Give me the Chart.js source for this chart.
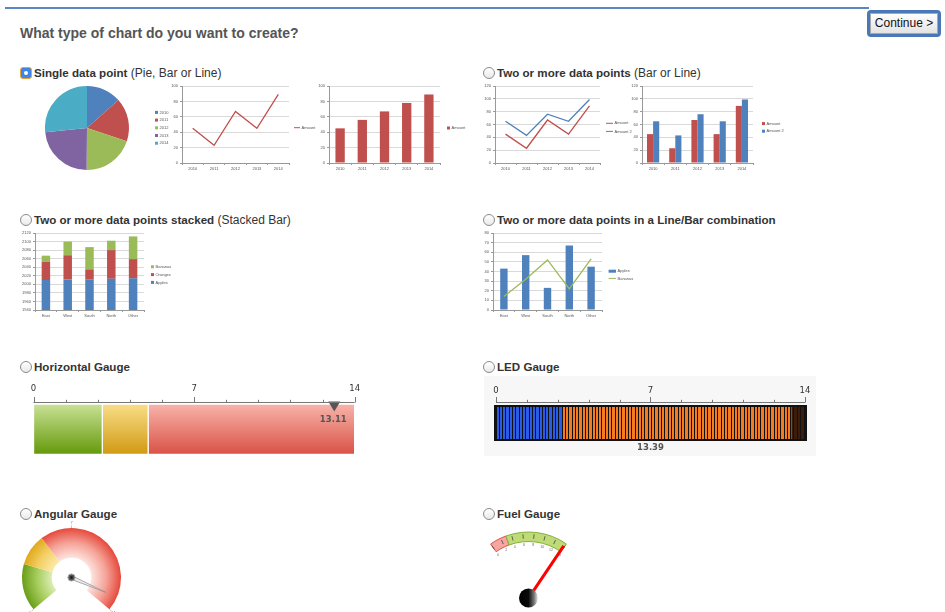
<!DOCTYPE html>
<html>
<head>
<meta charset="utf-8">
<title>What type of chart do you want to create?</title>
<script src="https://cdn.jsdelivr.net/npm/chart.js@4.4.1/dist/chart.umd.min.js"></script>
<style>
  html, body { margin: 0; padding: 0; }
  body { width: 945px; height: 612px; overflow: hidden; position: relative; background: #fff;
         font-family: 'Liberation Sans', Arial, sans-serif; color: #333; }
  .topline { position: absolute; left: 5px; top: 7px; width: 864px; height: 2px; background: #5b86c2; }
  .btn { position: absolute; left: 867px; top: 10px; width: 68px; height: 21px; border: 3px solid #4a77b6;
         border-radius: 4px; background: linear-gradient(#ffffff, #e2e2e2); box-shadow: inset 0 0 0 1px #a8a8a8;
         font-size: 12px; line-height: 21px; text-align: center; color: #111; }
  .title { position: absolute; left: 20px; top: 24px; font-size: 14px; font-weight: bold; color: #555; line-height: 18px; }
  .opt { position: absolute; font-size: 12px; line-height: 14px; color: #333; white-space: nowrap; padding-left: 14px; }
  .opt b { font-size: 11.6px; }
  .radio { position: absolute; left: 0; top: 1px; width: 10px; height: 10px; border: 1px solid #8c8c8c;
           border-radius: 50%; background: linear-gradient(#fff, #e9e9e9); }
  .radio.on { border-radius: 3px; border-color: #e8a33a; background: #3f85e6; }
  .radio.on::after { content: ''; position: absolute; left: 3px; top: 3px; width: 4px; height: 4px;
                     border-radius: 50%; background: #fff; }
  .ledbg { position: absolute; left: 484px; top: 376px; width: 332px; height: 80px; background: #f7f7f7; }
  canvas { position: absolute; }
</style>
</head>
<body>
<div class="topline"></div>
<div class="btn">Continue &gt;</div>
<div class="title">What type of chart do you want to create?</div>

<div class="opt" style="left:20px;top:66px"><span class="radio on"></span><b>Single data point</b> (Pie, Bar or Line)</div>
<div class="opt" style="left:483px;top:66px"><span class="radio"></span><b>Two or more data points</b> (Bar or Line)</div>
<div class="opt" style="left:20px;top:213px"><span class="radio"></span><b>Two or more data points stacked</b> (Stacked Bar)</div>
<div class="opt" style="left:483px;top:213px"><span class="radio"></span><b>Two or more data points in a Line/Bar combination</b></div>
<div class="opt" style="left:20px;top:360px"><span class="radio"></span><b>Horizontal Gauge</b></div>
<div class="opt" style="left:483px;top:360px"><span class="radio"></span><b>LED Gauge</b></div>
<div class="opt" style="left:20px;top:507px"><span class="radio"></span><b>Angular Gauge</b></div>
<div class="opt" style="left:483px;top:507px"><span class="radio"></span><b>Fuel Gauge</b></div>
<div class="ledbg"></div>

<script>
// --- datos ---
const years = ['2010', '2011', '2012', '2013', '2014'];
const pieValues = [45, 56, 67, 78, 89];
const barValues = [45, 56, 67, 78, 89];
const amount = [45, 23, 67, 45, 89];
const amount2 = [65, 43, 76, 65, 99];
const regions = ['East', 'West', 'South', 'North', 'Other'];
const apples = [2010, 2011, 2012, 2013, 2014];
const oranges = [43, 57, 23, 67, 45];
const bananas = [14, 32, 52, 22, 53];
const comboApples = [43, 57, 23, 67, 45];
const comboBananas = [14, 32, 52, 22, 53];
const gaugeLabels = [0, 7, 14];
const gaugeStops = [0, 3, 5, 14];
const hGaugeValue = 13.11;
const ledValue = 13.39;
const ledStops = [0, 3, ledValue, 14];
const angularValue = 13.11;
const fuelStops = [0, 3, 14];
const fuelTicks = [0, 2, 4, 6, 8, 10, 12, 14];
const fuelValue = 13.8;

const BLUE = '#4f81bd', RED = '#c0504d', GREEN = '#9bbb59', PURPLE = '#8064a2', TEAL = '#4bacc6';

Chart.defaults.font.family = "'Liberation Sans', Arial, sans-serif";
Chart.defaults.animation = false;
Chart.defaults.responsive = false;
Chart.defaults.events = [];
Chart.defaults.plugins.legend.display = false;
Chart.defaults.plugins.tooltip.enabled = false;

function canvasAt(x, y, w, h) {
    const c = document.createElement('canvas');
    c.width = w; c.height = h;
    c.style.left = x + 'px'; c.style.top = y + 'px';
    document.body.appendChild(c);
    return c;
}

// leyenda diminuta tipo Excel
const miniLegend = {
    id: 'miniLegend',
    afterDraw(chart, args, o) {
        const ctx = chart.ctx, ds = chart.data.datasets;
        let items;
        if (chart.config.type === 'pie') {
            items = chart.data.labels.map((label, i) => ({ label, color: ds[0].backgroundColor[i], line: false }));
        } else {
            items = ds.map(d => {
                const line = d.type === 'line' || (!d.type && chart.config.type === 'line');
                return { label: d.label, color: line ? d.borderColor : d.backgroundColor, line };
            });
            if (o.reverse) items.reverse();
        }
        ctx.save();
        ctx.font = "4px 'Liberation Sans', Arial, sans-serif";
        ctx.textBaseline = 'middle';
        items.forEach((it, i) => {
            const y = o.y + i * (o.gap || 0);
            if (it.line) {
                ctx.strokeStyle = it.color; ctx.lineWidth = 1;
                ctx.beginPath(); ctx.moveTo(o.x, y); ctx.lineTo(o.x + o.lw, y); ctx.stroke();
            } else {
                ctx.fillStyle = it.color;
                ctx.fillRect(o.x, y - 1.5, o.bw, 3);
            }
            ctx.fillStyle = '#555';
            ctx.fillText(it.label, o.x + (it.line ? o.lw : o.bw) + 1.5, y);
        });
        ctx.restore();
    }
};

function smallChart(type, plot, right, labels, datasets, y, legend, stacked) {
    const [l, t, r, b] = plot;
    const x0 = l - 16, y0 = t - 5, w = right - x0, h = b - y0 + 10;
    return new Chart(canvasAt(x0, y0, w, h), {
        type,
        data: { labels, datasets },
        options: {
            layout: { padding: { top: 5, right: w - 16 - (r - l), left: 0, bottom: 0 } },
            scales: {
                x: {
                    stacked: !!stacked, offset: true,
                    grid: { offset: true, drawOnChartArea: false, tickLength: 2, color: '#999' },
                    border: { color: '#999' },
                    ticks: { font: { size: 4 }, color: '#555', padding: 1.5, maxRotation: 0, autoSkip: false },
                    afterFit: s => { s.height = 10; }
                },
                y: {
                    stacked: !!stacked, min: y[0], max: y[1],
                    ticks: { stepSize: y[2], font: { size: 4 }, color: '#555', padding: 2, callback: v => String(v) },
                    grid: { color: '#d9d9d9', tickColor: '#999', tickLength: 2 },
                    border: { color: '#999' },
                    afterFit: s => { s.width = 16; }
                }
            },
            plugins: { miniLegend: Object.assign({}, legend, { x: legend.x - x0, y: legend.y - y0 }) }
        },
        plugins: [miniLegend]
    });
}

// --- Pie ---
new Chart(canvasAt(45, 86, 130, 84), {
    type: 'pie',
    data: { labels: years, datasets: [{ data: pieValues, backgroundColor: [BLUE, RED, GREEN, PURPLE, TEAL], borderWidth: 0 }] },
    options: {
        layout: { padding: { right: 46 } },
        plugins: { miniLegend: { x: 110, y: 26.4, gap: 7.7, bw: 3, lw: 6 } }
    },
    plugins: [miniLegend]
});

const lineDs = (label, data, color) => ({ label, data, borderColor: color, backgroundColor: color, borderWidth: 1.3, pointRadius: 0, tension: 0 });

smallChart('line', [182, 86, 289, 163], 316, years, [lineDs('Amount', amount, RED)],
    [0, 100, 10], { x: 294, y: 127.7, lw: 6, bw: 3 });

smallChart('bar', [329, 86, 440, 163], 469, years,
    [{ label: 'Amount', data: barValues, backgroundColor: RED, barPercentage: 0.42, categoryPercentage: 1 }],
    [0, 100, 10], { x: 447, y: 128, lw: 6, bw: 3 });

smallChart('line', [495, 86, 600, 163], 636, years,
    [lineDs('Amount', amount, RED), lineDs('Amount 2', amount2, BLUE)],
    [0, 120, 20], { x: 606, y: 123.3, gap: 8.1, lw: 7, bw: 3 });

smallChart('bar', [642, 86, 753, 163], 785, years,
    [{ label: 'Amount', data: amount, backgroundColor: RED, barPercentage: 1, categoryPercentage: 0.55 },
     { label: 'Amount 2', data: amount2, backgroundColor: BLUE, barPercentage: 1, categoryPercentage: 0.55 }],
    [0, 120, 20], { x: 762, y: 123.6, gap: 7.6, lw: 7, bw: 3 });

const stackDs = (label, data, color) => ({ label, data, backgroundColor: color, barPercentage: 0.39, categoryPercentage: 1, clip: 0 });
smallChart('bar', [35, 233, 144, 310], 175, regions,
    [stackDs('Apples', apples, BLUE), stackDs('Oranges', oranges, RED), stackDs('Bananas', bananas, GREEN)],
    [1940, 2120, 20], { x: 151, y: 266.8, gap: 7.8, lw: 6, bw: 3, reverse: true }, true);

smallChart('bar', [493, 233, 602, 310], 636, regions,
    [{ type: 'bar', label: 'Apples', data: comboApples, backgroundColor: BLUE, barPercentage: 0.34, categoryPercentage: 1, order: 1 },
     Object.assign(lineDs('Bananas', comboBananas, GREEN), { type: 'line', order: 0 })],
    [0, 80, 10], { x: 608.6, y: 271.2, gap: 7.2, lw: 7.4, bw: 7.4 });

// --- Gauges ---
const gaugeAxis = {
    id: 'gaugeAxis',
    afterDraw(chart, args, o) {
        const s = chart.scales.x, ctx = chart.ctx, y = Math.round(chart.chartArea.top - o.gap) + 0.5;
        ctx.save();
        ctx.strokeStyle = '#777'; ctx.lineWidth = 1;
        ctx.beginPath();
        ctx.moveTo(s.left, y); ctx.lineTo(s.right, y);
        s.ticks.forEach((t, i) => {
            const px = Math.round(s.getPixelForTick(i)) + 0.5;
            ctx.moveTo(px, y); ctx.lineTo(px, y - (t.label !== '' ? 5.5 : 2.7));
        });
        ctx.stroke();
        ctx.restore();
    }
};

function gaugeScale(pad, height) {
    return {
        position: 'top', min: 0, max: 14,
        ticks: {
            stepSize: 1.4, autoSkip: false, maxRotation: 0, padding: pad, color: '#333',
            font: { family: "'DejaVu Sans', Verdana, sans-serif", size: 8.5 },
            callback: v => gaugeLabels.includes(v) ? String(v) : ''
        },
        grid: { display: false, drawTicks: false },
        border: { display: false },
        afterFit: s => { s.height = height; }
    };
}

function vGrad(top, bottom) {
    return c => {
        const a = c.chart.chartArea;
        if (!a) return bottom;
        const g = c.chart.ctx.createLinearGradient(0, a.top, 0, a.bottom);
        g.addColorStop(0, top); g.addColorStop(1, bottom);
        return g;
    };
}

const hPointer = {
    id: 'hPointer',
    afterDatasetsDraw(chart, args, o) {
        const x = chart.scales.x.getPixelForValue(o.value), y = chart.chartArea.top - 2.5, ctx = chart.ctx;
        ctx.save();
        ctx.fillStyle = '#555';
        ctx.beginPath(); ctx.moveTo(x - 6, y); ctx.lineTo(x + 6, y); ctx.lineTo(x, y + 10); ctx.closePath(); ctx.fill();
        ctx.font = "bold 8.5px 'DejaVu Sans', Verdana, sans-serif";
        ctx.textAlign = 'center'; ctx.textBaseline = 'middle';
        ctx.fillText(o.value.toFixed(2), x - 1, y + 18);
        ctx.restore();
    }
};

const bandFill = [['#c9e296', '#64990a'], ['#f9de88', '#d09a12'], ['#f8b4aa', '#d95145']];
new Chart(canvasAt(20, 380, 350, 82), {
    type: 'bar',
    data: {
        labels: [''],
        datasets: gaugeStops.slice(1).map((s, i) => ({
            data: [[gaugeStops[i], s]], backgroundColor: vGrad(bandFill[i][0], bandFill[i][1]),
            borderColor: 'rgba(255,255,255,0.5)', borderWidth: 1, borderSkipped: false,
            grouped: false, barPercentage: 1, categoryPercentage: 1
        }))
    },
    options: {
        indexAxis: 'y',
        layout: { padding: { left: 13.5, right: 13, bottom: 7.5 } },
        scales: { x: gaugeScale(9.9, 24), y: { display: false } },
        plugins: { gaugeAxis: { gap: 2.5 }, hPointer: { value: hGaugeValue } }
    },
    plugins: [gaugeAxis, hPointer]
});

// LED
const ledColors = ['#2b5ce6', '#f47b20', '#3b1d0a'];
const ledFrame = {
    id: 'ledFrame',
    beforeDatasetsDraw(chart) {
        const a = chart.chartArea, ctx = chart.ctx;
        ctx.save(); ctx.fillStyle = '#111';
        ctx.fillRect(a.left - 2, a.top, a.right - a.left + 4, a.bottom - a.top);
        ctx.restore();
    },
    afterDraw(chart, args, o) {
        const a = chart.chartArea, ctx = chart.ctx;
        ctx.save();
        ctx.fillStyle = '#555';
        ctx.font = "bold 8.5px 'DejaVu Sans', Verdana, sans-serif";
        ctx.textAlign = 'center'; ctx.textBaseline = 'middle';
        ctx.fillText(o.value.toFixed(2), (a.left + a.right) / 2, a.bottom + 6.6);
        ctx.restore();
    }
};
new Chart(canvasAt(480, 380, 340, 80), {
    type: 'bar',
    data: {
        labels: [''],
        datasets: ledStops.slice(1).map((s, i) => ({
            data: [[ledStops[i], s]], backgroundColor: ledColors[i], borderWidth: 0,
            grouped: false, barPercentage: 0.89, categoryPercentage: 1
        }))
    },
    options: {
        indexAxis: 'y',
        layout: { padding: { left: 16, right: 14, bottom: 19 } },
        scales: {
            x: gaugeScale(9.6, 25),
            led: {
                axis: 'x', type: 'linear', position: 'bottom', min: 0, max: 14,
                ticks: { display: false, stepSize: 0.15 },
                grid: { color: '#111', lineWidth: 1, drawTicks: false, z: 1 },
                border: { display: false },
                afterFit: s => { s.height = 0; }
            },
            y: { display: false }
        },
        plugins: { gaugeAxis: { gap: 3.5 }, ledFrame: { value: ledValue } }
    },
    plugins: [gaugeAxis, ledFrame]
});

// Angular
const bandWidths = stops => stops.slice(1).map((s, i) => s - stops[i]);
const arcShade = {
    id: 'arcShade',
    beforeDatasetsDraw(chart, args, o) {
        chart.getDatasetMeta(0).data.forEach((el, i) => {
            const g = chart.ctx.createRadialGradient(el.x, el.y, el.innerRadius, el.x, el.y, el.outerRadius);
            o.stops[i].forEach((c, k, arr) => g.addColorStop(k / (arr.length - 1), c));
            el.options = Object.assign({}, el.options, { backgroundColor: g });
        });
    }
};
const dial = {
    id: 'dial',
    afterDatasetsDraw(chart, args, o) {
        const el = chart.getDatasetMeta(0).data[0], ctx = chart.ctx;
        const { x, y, outerRadius: R } = el;
        const rot = chart.options.rotation, circ = chart.options.circumference;
        const ang = v => (rot + circ * v / o.max - 90) * Math.PI / 180;
        ctx.save();
        ctx.font = "4px 'Liberation Sans', Arial, sans-serif";
        ctx.fillStyle = '#777'; ctx.strokeStyle = '#999'; ctx.lineWidth = 0.6;
        ctx.textAlign = 'center'; ctx.textBaseline = 'middle';
        o.labels.forEach(v => {
            const a = ang(v), c = Math.cos(a), s = Math.sin(a);
            ctx.beginPath(); ctx.moveTo(x + c * R, y + s * R); ctx.lineTo(x + c * (R + 2.5), y + s * (R + 2.5)); ctx.stroke();
            ctx.fillText(String(v), x + c * (R + 5), y + s * (R + 5));
        });
        const a = ang(o.value), tx = x + Math.cos(a) * o.length, ty = y + Math.sin(a) * o.length;
        const px = -Math.sin(a) * 1.8, py = Math.cos(a) * 1.8;
        ctx.beginPath(); ctx.moveTo(x + px, y + py); ctx.lineTo(tx, ty); ctx.lineTo(x - px, y - py); ctx.closePath();
        ctx.fillStyle = '#ececec'; ctx.fill();
        ctx.strokeStyle = '#888'; ctx.lineWidth = 0.7; ctx.stroke();
        ctx.beginPath(); ctx.arc(x, y, 3.6, 0, Math.PI * 2);
        ctx.fillStyle = '#555'; ctx.fill(); ctx.strokeStyle = '#aaa'; ctx.lineWidth = 1; ctx.stroke();
        ctx.beginPath(); ctx.arc(x, y, 1.4, 0, Math.PI * 2); ctx.fillStyle = '#222'; ctx.fill();
        ctx.restore();
    }
};
new Chart(canvasAt(14, 515, 115, 108), {
    type: 'doughnut',
    data: { labels: ['low', 'mid', 'high'], datasets: [{ data: bandWidths(gaugeStops), backgroundColor: ['#8ab83a', '#eec24a', '#ec6a5e'], borderWidth: 0 }] },
    options: {
        rotation: -130, circumference: 260, cutout: '40%', radius: 49.5,
        layout: { padding: { bottom: 0.7 } },
        plugins: {
            arcShade: { stops: [['#dcedb4', '#a6cc5c', '#6a9d18'], ['#fbeaa8', '#f3d068', '#e0a91a'], ['#fde4df', '#f5a398', '#e5493c']] },
            dial: { max: 14, labels: gaugeLabels, value: angularValue, length: 37 }
        }
    },
    plugins: [arcShade, dial]
});

// Fuel
const fuelDial = {
    id: 'fuelDial',
    afterDatasetsDraw(chart, args, o) {
        const el = chart.getDatasetMeta(0).data[0], ctx = chart.ctx;
        const { x, y, innerRadius: r0, outerRadius: R } = el;
        const rot = chart.options.rotation, circ = chart.options.circumference;
        const ang = v => (rot + circ * v / o.max - 90) * Math.PI / 180;
        ctx.save();
        ctx.strokeStyle = '#444'; ctx.lineWidth = 0.8;
        ctx.font = "3.5px 'Liberation Sans', Arial, sans-serif";
        ctx.fillStyle = '#666'; ctx.textAlign = 'center'; ctx.textBaseline = 'middle';
        o.ticks.forEach(v => {
            const a = ang(v), c = Math.cos(a), s = Math.sin(a);
            ctx.beginPath(); ctx.moveTo(x + c * (r0 + 3), y + s * (r0 + 3)); ctx.lineTo(x + c * (R - 2), y + s * (R - 2)); ctx.stroke();
            ctx.fillText(String(v), x + c * (r0 - 3.5), y + s * (r0 - 3.5));
        });
        const a = ang(o.value);
        ctx.strokeStyle = '#ff0000'; ctx.lineWidth = 3;
        ctx.beginPath(); ctx.moveTo(x, y); ctx.lineTo(x + Math.cos(a) * o.length, y + Math.sin(a) * o.length); ctx.stroke();
        const g = ctx.createLinearGradient(x - 9.5, 0, x + 9.5, 0);
        g.addColorStop(0, '#000'); g.addColorStop(0.5, '#0a0a0a'); g.addColorStop(0.8, '#7a7a7a'); g.addColorStop(1, '#eeeeee');
        ctx.beginPath(); ctx.arc(x, y, 9.5, 0, Math.PI * 2); ctx.fillStyle = g; ctx.fill();
        ctx.restore();
    }
};
new Chart(canvasAt(468, 515, 121, 97), {
    type: 'doughnut',
    data: { labels: ['reserve', 'full'], datasets: [{ data: bandWidths(fuelStops), backgroundColor: ['#f6a5a0', '#bedb78'], borderColor: ['#e0524a', '#86b03a'], borderWidth: 1 }] },
    options: {
        rotation: -35, circumference: 70, cutout: '85.6%', radius: 66,
        layout: { padding: { bottom: 43.2 } },
        plugins: { fuelDial: { max: 14, ticks: fuelTicks, value: fuelValue, length: 63 } }
    },
    plugins: [fuelDial]
});
</script>
</body>
</html>
